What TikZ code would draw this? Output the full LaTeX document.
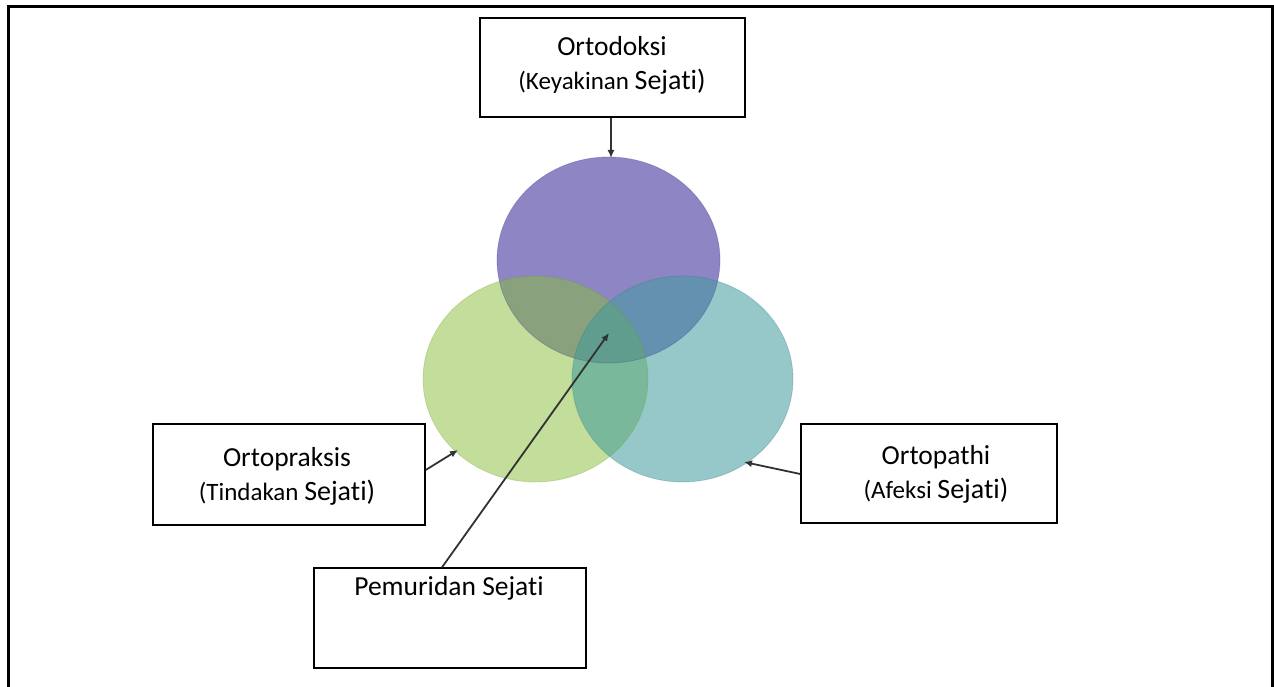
\documentclass[tikz,border=0pt]{standalone}
\usepackage{fontspec}
\setmainfont[Ligatures=NoCommon]{Carlito}
\usetikzlibrary{arrows.meta}
\definecolor{purp}{RGB}{104,92,178}
\definecolor{grn}{RGB}{135,189,55}
\definecolor{tel}{RGB}{64,155,158}
\definecolor{arr}{RGB}{50,50,50}
\tikzset{
  box/.style={draw=black, line width=1.4pt, fill=white, inner sep=0pt},
  lbl/.style={align=center, font=\fontsize{25}{34}\selectfont, inner sep=0pt},
  conn/.style={draw=arr, line width=1.8pt, -{Latex[length=8pt,width=7pt]}}
}
\newcommand{\bigsj}{{\fontsize{28}{34}\selectfont Sejati)}}
\newcommand{\firstln}[1]{{\fontsize{27.5}{34}\selectfont #1}}
\begin{document}
\begin{tikzpicture}[x=1pt,y=-1pt]
\useasboundingbox (0,0) rectangle (1274,687);
% frame
\draw[line width=3pt, black] (8,700) -- (8,6.5) -- (1272,6.5) -- (1272,700);
% circles
\fill[purp, fill opacity=0.75] (608.5,260) ellipse [x radius=111.5, y radius=103];
\fill[grn, fill opacity=0.5] (535.5,379) ellipse [x radius=112.5, y radius=103];
\fill[tel, fill opacity=0.55] (682.5,379) ellipse [x radius=110.5, y radius=103];
\draw[purp!80!black, opacity=0.35, line width=0.8pt] (608.5,260) ellipse [x radius=111.5, y radius=103];
\draw[grn!80!black, opacity=0.25, line width=0.8pt] (535.5,379) ellipse [x radius=112.5, y radius=103];
\draw[tel!80!black, opacity=0.3, line width=0.8pt] (682.5,379) ellipse [x radius=110.5, y radius=103];
% target coordinates
\coordinate (ctop) at (611,158);
\coordinate (cleft) at (458,450);
\coordinate (cright) at (744,462);
\coordinate (ccenter) at (609,333);
% boxes
\node[box, minimum width=265, minimum height=99] (dok) at (612.5,67.5) {};
\node[lbl] (doktxt) at (612,65) {\firstln{Ortodoksi}\\(Keyakinan \bigsj};
\node[box, minimum width=272, minimum height=101] (prak) at (289,474.5) {};
\node[lbl] (praktxt) at (287,476) {\firstln{Ortopraksis}\\(Tindakan \bigsj};
\node[box, minimum width=256, minimum height=99] (path) at (929,473.5) {};
\node[lbl] (pathtxt) at (936,474) {\firstln{Ortopathi}\\(Afeksi \bigsj};
\node[box, minimum width=272, minimum height=100] (pem) at (450,618) {};
\node[lbl, font=\fontsize{27.5}{34}\selectfont] (pemtxt) at (449,588) {Pemuridan Sejati};
% connectors
\draw[conn] (dok.south -| ctop) -- (ctop);
\draw[conn] (prak.east |- 0,470) -- (cleft);
\draw[conn] (path.west |- 0,474) -- (cright);
\draw[conn] (pem.north -| 442,0) -- (ccenter);
\end{tikzpicture}
\end{document}
